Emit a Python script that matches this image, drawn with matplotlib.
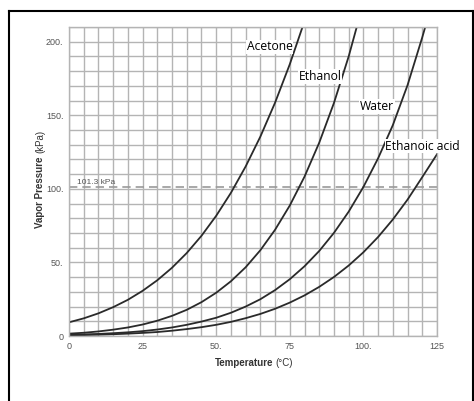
import numpy as np
from matplotlib import pyplot as plt
from matplotlib.lines import Line2D

_W, _H, _DPI = 474, 401, 100
_FONT = 'Open Sans'
_SMALL = 'Liberation Sans'

# vapour pressure readings (kPa), every 5 C
temp_acetone = [0, 5, 10, 15, 20, 25, 30, 35, 40, 45, 50, 55, 60, 65, 70, 75, 80]
p_acetone = [9.3, 12.0, 15.4, 19.6, 24.6, 30.7, 37.9, 46.4, 56.4, 68.1, 81.7, 97.3, 115.2, 135.5, 158.6, 184.7, 214.0]

temp_ethanol = [0, 5, 10, 15, 20, 25, 30, 35, 40, 45, 50, 55, 60, 65, 70, 75, 80, 85, 90, 95, 100]
p_ethanol = [1.6, 2.2, 3.1, 4.3, 5.8, 7.8, 10.4, 13.7, 17.8, 23.0, 29.4, 37.2, 46.7, 58.3, 72.2, 88.7, 108.3, 131.4, 158.4, 190.0, 226.5]

temp_water = [0, 5, 10, 15, 20, 25, 30, 35, 40, 45, 50, 55, 60, 65, 70, 75, 80, 85, 90, 95, 100, 105, 110, 115, 120, 125]
p_water = [0.9, 1.1, 1.4, 1.9, 2.5, 3.3, 4.4, 5.8, 7.6, 9.8, 12.4, 15.8, 20.0, 25.0, 31.2, 38.6, 47.4, 57.8, 70.1, 84.5, 101.3, 120.8, 143.3, 170.5, 203.0, 238.0]

temp_acid = [0, 5, 10, 15, 20, 25, 30, 35, 40, 45, 50, 55, 60, 65, 70, 75, 80, 85, 90, 95, 100, 105, 110, 115, 120, 125]
p_acid = [0.6, 0.7, 0.9, 1.2, 1.6, 2.1, 2.7, 3.6, 4.7, 6.0, 7.6, 9.6, 12.1, 15.0, 18.5, 22.7, 27.6, 33.4, 40.1, 47.9, 56.9, 67.3, 79.2, 92.7, 108.0, 123.5]

x_ticks = [0, 25, 50, 75, 100, 125]
x_ticklabels = ['0', '25', '50.', '75', '100.', '125']
y_ticks = [0, 50, 100, 150, 200]
y_ticklabels = ['0', '50.', '100.', '150.', '200.']

fig = plt.figure(figsize=(_W / _DPI, _H / _DPI), dpi=_DPI)
ax = fig.add_axes([69 / _W, 65 / _H, 368 / _W, 309 / _H])

ax.set_xlim(0, 125)
ax.set_ylim(0, 210)
ax.set_xticks(x_ticks)
ax.set_xticklabels(x_ticklabels)
ax.set_yticks(y_ticks)
ax.set_yticklabels(y_ticklabels)
ax.set_xticks(np.arange(0, 126, 5), minor=True)
ax.set_yticks(np.arange(0, 211, 10), minor=True)
ax.grid(which='both', color='#b4b4b4', linewidth=1.0)
ax.set_axisbelow(True)
for s in ax.spines.values():
  s.set_color('#b4b4b4')
  s.set_linewidth(1.0)

ax.tick_params(which='both', length=0, labelsize=6.5, labelcolor='#555555', pad=4)
for lbl in ax.get_xticklabels() + ax.get_yticklabels():
  lbl.set_family(_SMALL)

# atmospheric pressure line
ax.axhline(101.3, color='#999999', linewidth=1.2, linestyle=(0, (5, 3)))
ax.text(2.7, 103.5, '101.3 kPa', fontsize=6, color='#555555', family=_SMALL)

for t, p in [(temp_acetone, p_acetone), (temp_ethanol, p_ethanol),
             (temp_water, p_water), (temp_acid, p_acid)]:
  ax.plot(t, p, color='#2a2a2a', linewidth=1.3)

box = dict(facecolor='white', edgecolor='none', pad=0.5)
ax.text(76, 196.5, 'Acetone', ha='right', va='center', fontsize=8.7, family=_FONT, bbox=box)
ax.text(92.5, 176.5, 'Ethanol', ha='right', va='center', fontsize=8.7, family=_FONT, bbox=box)
ax.text(110.5, 156, 'Water', ha='right', va='center', fontsize=8.7, family=_FONT, bbox=box)
ax.text(107.5, 129, 'Ethanoic acid', ha='left', va='center', fontsize=8.7, family=_FONT, bbox=box)

# axis titles, bold name + plain unit
fig.text(273 / _W, 1 - 363 / _H, 'Temperature', ha='right', va='center', fontsize=7,
         fontweight='bold', color='#333333', family=_SMALL)
fig.text(275.5 / _W, 1 - 363 / _H, '(°C)', ha='left', va='center', fontsize=7,
         color='#333333', family=_SMALL)
fig.text(40 / _W, 1 - 156 / _H, 'Vapor Pressure', ha='right', va='center', rotation=90,
         rotation_mode='anchor', fontsize=7, fontweight='bold', color='#333333', family=_SMALL)
fig.text(40 / _W, 1 - 153 / _H, '(kPa)', ha='left', va='center', rotation=90,
         rotation_mode='anchor', fontsize=7, color='#333333', family=_SMALL)

# black frame around the picture (bottom is cut off)
lx, ty, rx = 8.5 / _W, 1 - 10.5 / _H, 472.5 / _W
fig.add_artist(Line2D([lx, rx], [ty, ty], color='black', linewidth=1.5))
fig.add_artist(Line2D([lx, lx], [0, ty], color='black', linewidth=1.5))
fig.add_artist(Line2D([rx, rx], [0, ty], color='black', linewidth=1.5))

fig.savefig('out.png', dpi=_DPI)
